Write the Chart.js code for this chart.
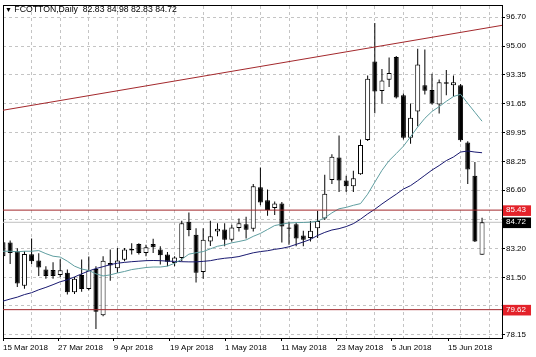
<!DOCTYPE html>
<html><head><meta charset="utf-8">
<script src="https://cdn.jsdelivr.net/npm/chart.js@4"></script>
<style>
html,body{margin:0;padding:0;background:#fff;}
#wrap{position:relative;width:536px;height:357px;overflow:hidden;}
#title{position:absolute;left:5px;top:4px;font:8.7px "Liberation Sans",Arial,sans-serif;color:#000;white-space:pre;line-height:10px;}
#title .tri{font-size:7px;}
</style></head><body>
<div id="wrap"><canvas id="c" width="536" height="357"></canvas><div id="title"></div></div>
<script>
const symbol = 'FCOTTON', period = 'Daily';

const open = [83.55,83.54,83.03,81.02,82.85,82.49,81.97,81.93,81.65,81.78,
80.63,81.65,80.82,81.99,79.30,82.34,82.03,82.54,83.16,83.45,
82.93,83.45,83.13,82.84,82.35,82.63,84.75,83.99,81.82,83.60,
84.18,84.30,83.70,84.38,84.60,84.35,86.77,86.00,85.55,85.81,
84.34,84.60,83.95,83.80,84.37,84.94,87.19,88.50,87.16,86.83,
87.53,89.52,94.11,92.38,93.04,94.37,92.13,89.65,91.18,92.72,
92.44,91.59,92.89,92.72,92.72,89.37,87.43,82.83];

const high = [83.77,83.66,83.20,83.03,83.77,82.92,82.16,82.39,82.56,81.96,
81.53,82.55,82.72,82.16,82.74,83.13,83.22,83.22,83.50,83.50,
83.41,83.76,83.32,82.99,82.74,84.81,85.29,84.37,84.37,84.81,
84.66,84.66,84.57,84.94,85.04,86.96,87.92,86.63,85.94,85.91,
84.75,84.71,84.23,84.79,85.38,87.50,88.69,89.78,87.44,87.73,
89.55,93.29,96.35,93.67,94.34,94.43,92.23,91.66,94.85,94.80,
93.39,93.05,93.61,93.29,92.79,89.45,88.24,84.98];

const low = [82.45,82.29,80.95,80.84,82.28,81.59,81.42,81.42,81.53,80.50,
80.53,80.67,80.75,78.49,79.24,81.31,81.78,82.45,82.84,82.84,
82.74,82.93,82.26,82.16,82.16,82.45,83.90,81.21,81.42,83.34,
83.90,83.32,83.60,84.18,83.78,84.18,85.72,85.10,85.15,83.54,
83.41,83.32,83.32,83.60,83.80,84.85,86.96,86.49,86.49,86.49,
87.50,89.46,91.08,91.66,92.61,91.95,89.55,89.31,90.32,92.18,
91.60,91.07,92.14,92.06,89.42,86.96,83.57,82.83];

const close = [82.74,82.93,81.14,82.87,82.45,82.08,81.59,81.59,81.92,80.63,
81.42,80.82,81.92,79.50,82.48,82.20,82.49,83.13,83.07,82.93,
83.26,83.26,82.80,82.41,82.66,84.66,84.27,81.78,83.70,83.90,
84.34,83.70,84.41,84.66,84.28,86.83,85.87,85.43,85.81,84.47,
84.41,83.77,83.70,84.23,84.79,86.38,88.54,87.16,86.83,87.29,
89.23,93.10,92.35,93.00,93.43,92.00,89.65,90.82,93.93,92.40,
91.66,92.89,92.80,92.90,89.51,87.80,83.60,84.72];

const maFast = [83.03,83.03,83.00,83.03,83.03,83.07,82.89,82.74,82.69,82.45,
82.16,81.99,81.91,81.71,81.59,81.65,81.76,81.85,81.96,82.02,
82.08,82.11,82.11,82.16,82.33,82.56,82.86,82.94,83.01,83.17,
83.32,83.40,83.52,83.60,83.69,83.90,84.07,84.30,84.53,84.61,
84.68,84.70,84.71,84.73,84.79,84.98,85.27,85.51,85.59,85.71,
85.81,86.36,87.06,87.75,88.32,88.73,89.16,89.71,90.28,90.79,
91.19,91.47,91.78,92.06,92.19,91.66,91.14,90.62];

const maSlow = [80.12,80.24,80.35,80.50,80.61,80.78,80.92,81.08,81.25,81.36,
81.53,81.71,81.88,82.02,82.13,82.25,82.33,82.38,82.42,82.45,
82.48,82.49,82.48,82.45,82.44,82.42,82.41,82.41,82.44,82.48,
82.56,82.62,82.66,82.72,82.83,82.94,83.01,83.06,83.14,83.20,
83.29,83.43,83.57,83.72,83.95,84.13,84.27,84.35,84.47,84.64,
84.90,85.21,85.48,85.79,86.08,86.36,86.66,86.86,87.15,87.46,
87.77,88.03,88.32,88.53,88.82,88.88,88.82,88.78];

const trendLine = [{x: 0, y: 91.26}, {x: 70, y: 96.23}];
const levels = [85.43, 79.62];
const bidLevel = 84.72;

const xTickLabels = ['15 Mar 2018','27 Mar 2018','9 Apr 2018','19 Apr 2018','1 May 2018','11 May 2018','23 May 2018','5 Jun 2018','15 Jun 2018'];
const xTickPos = [0, 7.7, 15.5, 23.35, 31.05, 38.9, 46.7, 54.4, 62.25];
const gridCols = [4,8,12,16,20,24,28,32,36,40,44,48,52,56,60,64,68];

const yTickValues = [96.70,95.00,93.35,91.65,89.95,88.25,86.60,84.90,83.20,81.50,79.85,78.15];
const yTickLabels = ['96.70','95.00','93.35','91.65','89.95','88.25','86.60','','83.20','81.50','','78.15'];
const badgeValues = [85.43, 84.72, 79.62];
const badgeLabels = ['85.43','84.72','79.62'];
const badgeColors = ['#e3222a','#000000','#e3222a'];

const last = open.length - 1;
document.getElementById('title').innerHTML = '<span class="tri">\u25BC</span> ' + symbol + ',' + period + '  ' +
  [open[last], high[last], low[last], close[last]].map(v => v.toFixed(2)).join(' ');

Chart.defaults.font.family = '"Liberation Sans", Arial, sans-serif';
Chart.defaults.font.size = 8;

const idx = open.map((_, i) => i);
const nT = yTickValues.length;
const LINE = '#a3282c';
const GRID = '#c4c4c4';
const XMAX = 69.79, YMIN = 77.966, YMAX = 97.356;

new Chart(document.getElementById('c'), {
  type: 'bar',
  data: {
    datasets: [
      { type: 'line', data: trendLine, borderColor: LINE, borderWidth: 1, pointRadius: 0, order: 0, clip: 0 },
      { type: 'line', data: [{x: -1, y: levels[0]}, {x: 71, y: levels[0]}], borderColor: LINE, borderWidth: 1, pointRadius: 0, order: 0, clip: 0 },
      { type: 'line', data: [{x: -1, y: levels[1]}, {x: 71, y: levels[1]}], borderColor: LINE, borderWidth: 1, pointRadius: 0, order: 0, clip: 0 },
      { type: 'line', data: maFast.map((v, i) => ({x: i, y: v})), borderColor: '#5f9ea0', borderWidth: 1, pointRadius: 0, tension: 0, order: 1, clip: 0 },
      { type: 'line', data: maSlow.map((v, i) => ({x: i, y: v})), borderColor: '#191970', borderWidth: 1, pointRadius: 0, tension: 0, order: 1, clip: 0 },
      { type: 'bar', data: idx.map(i => ({x: i, y: [open[i], close[i]]})),
        backgroundColor: idx.map(i => close[i] >= open[i] ? '#ffffff' : '#000000'),
        borderColor: '#000', borderWidth: 1, borderSkipped: false, barThickness: 5, grouped: false, inflateAmount: 0, order: 2, clip: 0 },
      { type: 'bar', data: idx.map(i => ({x: i, y: [low[i], high[i]]})),
        backgroundColor: '#000', borderWidth: 0, barThickness: 1, grouped: false, inflateAmount: 0, order: 3, clip: 0 },
      { type: 'line', data: [{x: -1, y: bidLevel}, {x: 71, y: bidLevel}], borderColor: '#c0c0c0', borderWidth: 1, pointRadius: 0, order: 4, clip: 0 }
    ]
  },
  options: {
    responsive: false, animation: false, devicePixelRatio: 1, events: [],
    layout: { padding: { left: 3, top: 1, right: 0, bottom: 0 } },
    plugins: { legend: { display: false }, tooltip: { enabled: false }, title: { display: false } },
    scales: {
      x: {
        type: 'linear', position: 'bottom', min: 0, max: XMAX, offset: false,
        afterBuildTicks: s => { s.ticks = xTickPos.map(v => ({value: v})); },
        afterFit: s => { s.height = 19; },
        ticks: { autoSkip: false, maxRotation: 0, minRotation: 0, align: 'start', padding: 2, color: '#000',
                 callback: (v, i) => xTickLabels[i] },
        grid: { offset: false, drawOnChartArea: false, drawTicks: true, tickLength: 3, color: '#000', tickColor: '#000' },
        border: { display: true, color: '#000', width: 1 }
      },
      xg: {
        type: 'linear', position: 'top', min: 0, max: XMAX, offset: false,
        afterBuildTicks: s => { s.ticks = gridCols.map(v => ({value: v})); },
        afterFit: s => { s.height = 0; },
        ticks: { display: false },
        grid: { offset: false, color: GRID, drawTicks: false, lineWidth: 1 },
        border: { display: true, color: '#000', width: 1, dash: [3, 3] }
      },
      y: {
        type: 'linear', position: 'right', min: YMIN, max: YMAX,
        afterBuildTicks: s => { s.ticks = yTickValues.concat(badgeValues).map(v => ({value: v})); },
        afterFit: s => { s.width = 34; },
        ticks: {
          autoSkip: false, padding: 1,
          color: ctx => ctx.index >= nT ? '#ffffff' : '#000000',
          callback: (v, i) => i < nT ? yTickLabels[i] : badgeLabels[i - nT],
          showLabelBackdrop: ctx => ctx.index >= nT,
          backdropColor: ctx => ctx.index >= nT ? badgeColors[ctx.index - nT] : 'rgba(0,0,0,0)',
          backdropPadding: { top: 0, bottom: 1, left: 3, right: 5 }
        },
        grid: {
          color: ctx => ctx.index >= nT ? 'rgba(0,0,0,0)' : GRID,
          tickColor: ctx => ctx.index >= nT ? 'rgba(0,0,0,0)' : '#000',
          tickLength: 3, drawTicks: true
        },
        border: { display: true, color: '#000', width: 1, dash: [3, 3] }
      },
      yl: {
        type: 'linear', position: 'left', min: YMIN, max: YMAX,
        afterFit: s => { s.width = 0; },
        ticks: { display: false },
        grid: { display: false, drawTicks: false },
        border: { display: true, color: '#000', width: 1 }
      }
    }
  }
});
</script>
</body></html>
